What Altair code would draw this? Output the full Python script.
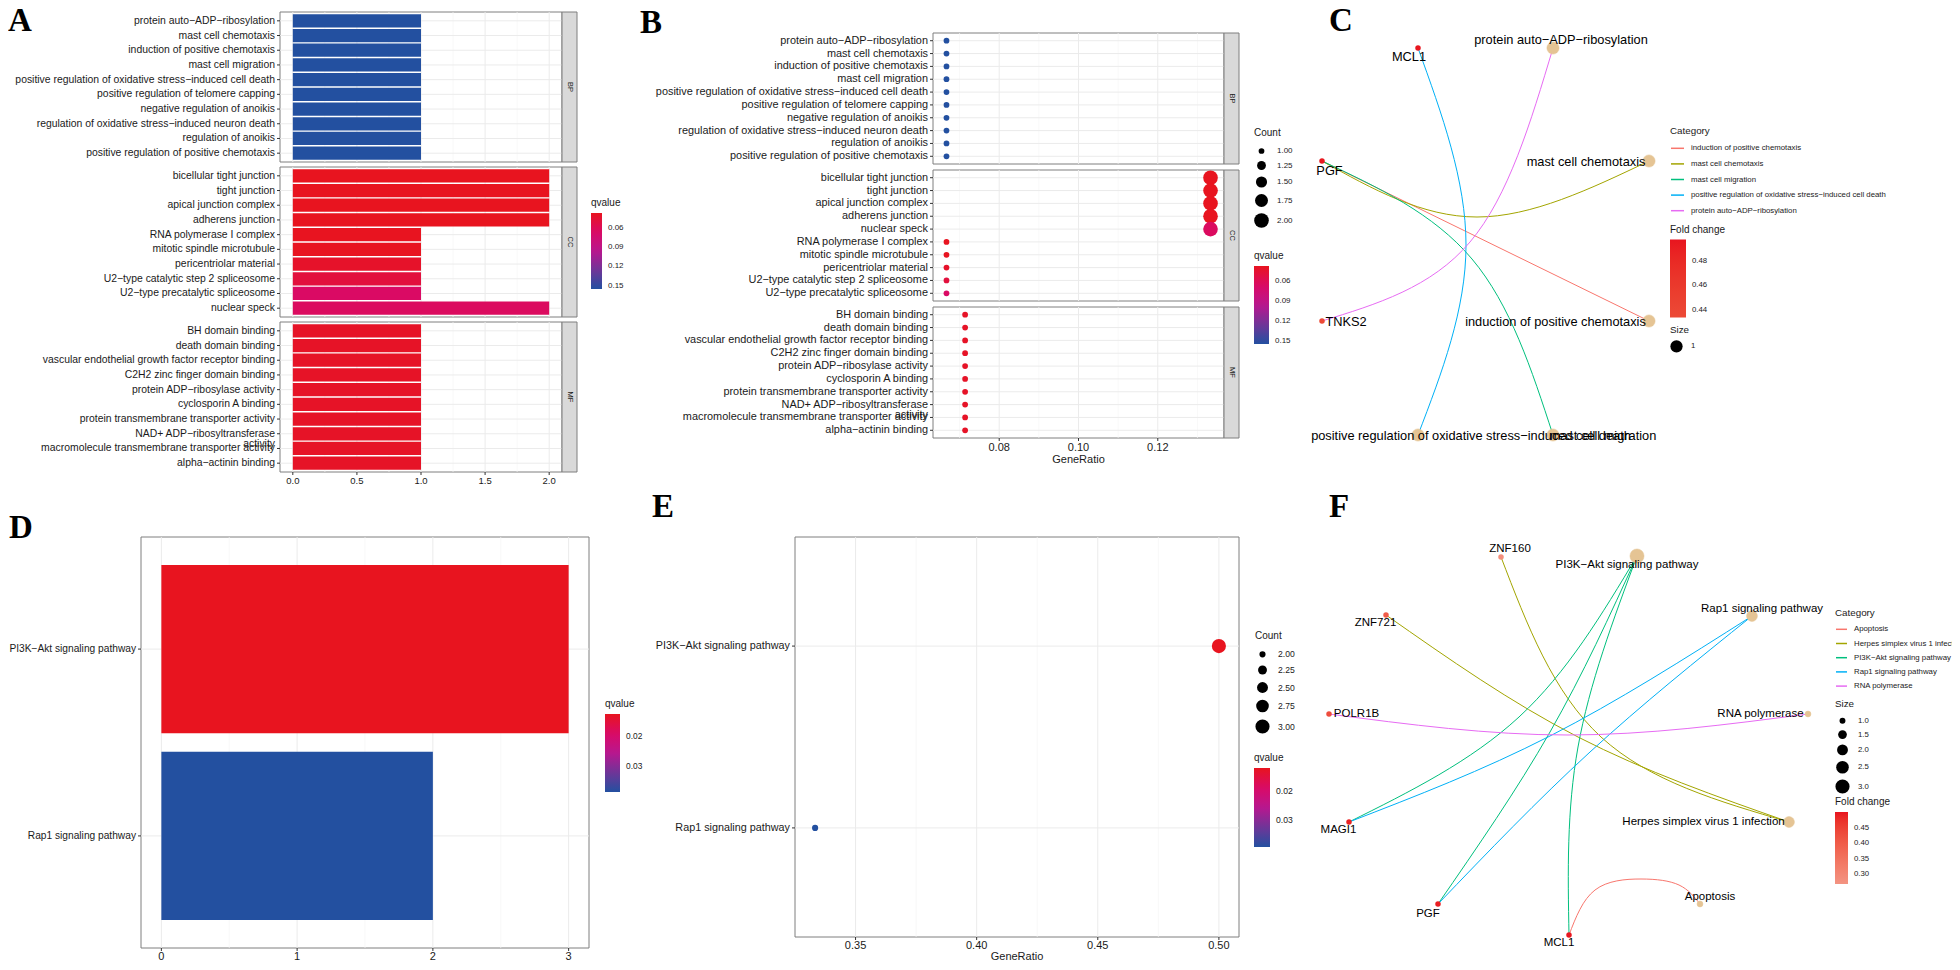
import altair as alt
import pandas as pd

# ---------------- fonts / colours ----------------
SANS = "Liberation Sans, Arial, Helvetica, sans-serif"
SERIF = "Liberation Serif, Times New Roman, serif"
INK = "#1a1a1a"
TICK = "#333333"
BORDER = "#7f7f7f"
GRID = "#EBEBEB"
GRID_MINOR = "#F5F5F5"
STRIP = "#D9D9D9"
CAT_NODE = "#E5C494"
HUE5 = ["#F8766D", "#A3A500", "#00BF7D", "#00B0F6", "#E76BF3"]
QV_COLORS = ["#2350A0", "#6F3598", "#B8178F", "#D90A66", "#E8141F"]

# ---------------- panels A / B : GO enrichment ----------------
bp_terms = [
    "protein auto−ADP−ribosylation",
    "mast cell chemotaxis",
    "induction of positive chemotaxis",
    "mast cell migration",
    "positive regulation of oxidative stress−induced cell death",
    "positive regulation of telomere capping",
    "negative regulation of anoikis",
    "regulation of oxidative stress−induced neuron death",
    "regulation of anoikis",
    "positive regulation of positive chemotaxis",
]
bp_count = [1, 1, 1, 1, 1, 1, 1, 1, 1, 1]
bp_ratio = [0.0667, 0.0667, 0.0667, 0.0667, 0.0667, 0.0667, 0.0667, 0.0667, 0.0667, 0.0667]
bp_qvalue = [0.155, 0.155, 0.155, 0.155, 0.155, 0.155, 0.155, 0.155, 0.155, 0.155]

cc_terms = [
    "bicellular tight junction",
    "tight junction",
    "apical junction complex",
    "adherens junction",
    "RNA polymerase I complex",
    "mitotic spindle microtubule",
    "pericentriolar material",
    "U2−type catalytic step 2 spliceosome",
    "U2−type precatalytic spliceosome",
    "nuclear speck",
]
cc_count = [2, 2, 2, 2, 1, 1, 1, 1, 1, 2]
cc_ratio = [0.1333, 0.1333, 0.1333, 0.1333, 0.0667, 0.0667, 0.0667, 0.0667, 0.0667, 0.1333]
cc_qvalue = [0.0375, 0.0375, 0.0375, 0.0375, 0.038, 0.038, 0.042, 0.05, 0.066, 0.064]
cc_dot_order = [
    "bicellular tight junction",
    "tight junction",
    "apical junction complex",
    "adherens junction",
    "nuclear speck",
    "RNA polymerase I complex",
    "mitotic spindle microtubule",
    "pericentriolar material",
    "U2−type catalytic step 2 spliceosome",
    "U2−type precatalytic spliceosome",
]

mf_terms = [
    "BH domain binding",
    "death domain binding",
    "vascular endothelial growth factor receptor binding",
    "C2H2 zinc finger domain binding",
    "protein ADP−ribosylase activity",
    "cyclosporin A binding",
    "protein transmembrane transporter activity",
    "NAD+ ADP−ribosyltransferase\nactivity",
    "macromolecule transmembrane transporter activity",
    "alpha−actinin binding",
]
mf_count = [1, 1, 1, 1, 1, 1, 1, 1, 1, 1]
mf_ratio = [0.0714, 0.0714, 0.0714, 0.0714, 0.0714, 0.0714, 0.0714, 0.0714, 0.0714, 0.0714]
mf_qvalue = [0.041, 0.041, 0.041, 0.041, 0.041, 0.041, 0.041, 0.041, 0.041, 0.041]

# ---------------- panels D / E : KEGG enrichment ----------------
kegg_terms = ["PI3K−Akt signaling pathway", "Rap1 signaling pathway"]
kegg_count = [3, 2]
kegg_ratio = [0.5, 0.3333]
kegg_qvalue = [0.0124, 0.039]

# colour-stop positions of the qvalue colour bars (high q -> low q)
go_q_stops = [0.155, 0.126, 0.097, 0.067, 0.0375]
kegg_q_stops = [0.039, 0.0324, 0.0257, 0.0191, 0.0124]

# axis ticks and legend values
a_major = [0, 0.5, 1, 1.5, 2]
a_minor = [0.25, 0.75, 1.25, 1.75]
b_major = [0.08, 0.10, 0.12]
b_minor = [0.07, 0.09, 0.11, 0.13]
d_major = [0, 1, 2, 3]
d_minor = [0.5, 1.5, 2.5]
e_major = [0.35, 0.40, 0.45, 0.50]
e_minor = [0.375, 0.425, 0.475]
go_q_labels = [0.06, 0.09, 0.12, 0.15]
kegg_q_labels = [0.02, 0.03]
b_count_labels = [1, 1.25, 1.5, 1.75, 2]
e_count_labels = [2, 2.25, 2.5, 2.75, 3]
c_fc_labels = [0.44, 0.46, 0.48]
f_fc_labels = [0.30, 0.35, 0.40, 0.45]
f_size_labels = [1, 1.5, 2, 2.5, 3]

# ---------------- panel C : gene-concept network (GO), layout units ----------------
c_cat_order = [
    "induction of positive chemotaxis",
    "mast cell chemotaxis",
    "mast cell migration",
    "positive regulation of oxidative stress−induced cell death",
    "protein auto−ADP−ribosylation",
]
c_gene_names = ["MCL1", "PGF", "TNKS2"]
c_gene_x = [118, 22, 22]
c_gene_y = [28, 141, 301]
c_gene_fc = [0.497, 0.495, 0.434]
c_gene_lx = [109, 29.5, 46]
c_gene_ly = [37, 151, 302]
c_cat_names = [
    "protein auto−ADP−ribosylation",
    "mast cell chemotaxis",
    "induction of positive chemotaxis",
    "positive regulation of oxidative stress−induced cell death",
    "mast cell migration",
]
c_cat_x = [253, 349, 349, 118, 253]
c_cat_y = [28, 141, 301, 415, 415]
c_cat_size = [1, 1, 1, 1, 1]
c_cat_lx = [261, 286, 255.5, 171, 303]
c_cat_ly = [20, 142, 302, 416, 416]
c_edge_cat = [
    "induction of positive chemotaxis",
    "mast cell chemotaxis",
    "mast cell migration",
    "positive regulation of oxidative stress−induced cell death",
    "protein auto−ADP−ribosylation",
]
c_edge_x = [[22, 349], [22, 177, 349], [22, 172, 253], [118, 166, 118], [22, 170, 253]]
c_edge_y = [[141, 301], [141, 197, 141], [141, 239, 415], [28, 225, 415], [301, 222, 28]]

# ---------------- panel F : gene-concept network (KEGG), layout units ----------------
f_cat_order = [
    "Apoptosis",
    "Herpes simplex virus 1 infection",
    "PI3K−Akt signaling pathway",
    "Rap1 signaling pathway",
    "RNA polymerase",
]
f_gene_names = ["ZNF160", "ZNF721", "POLR1B", "MAGI1", "PGF", "MCL1"]
f_gene_x = [201, 86, 29, 49, 138, 269]
f_gene_y = [20, 78, 177, 285, 367, 398]
f_gene_fc = [0.28, 0.40, 0.43, 0.49, 0.495, 0.50]
f_gene_lx = [210, 75.5, 56.5, 38.5, 128, 259]
f_gene_ly = [12, 86, 177, 293, 377, 406]
f_cat_names = [
    "PI3K−Akt signaling pathway",
    "Rap1 signaling pathway",
    "RNA polymerase",
    "Herpes simplex virus 1 infection",
    "Apoptosis",
]
f_cat_x = [337, 452, 508, 489, 400]
f_cat_y = [19, 79, 177, 285, 367]
f_cat_size = [3, 2, 1, 2, 1]
f_cat_lx = [327, 462, 460.5, 403.5, 410]
f_cat_ly = [28, 72, 177, 285, 360]
f_edge_cat = [
    "Apoptosis",
    "Herpes simplex virus 1 infection",
    "Herpes simplex virus 1 infection",
    "PI3K−Akt signaling pathway",
    "PI3K−Akt signaling pathway",
    "PI3K−Akt signaling pathway",
    "Rap1 signaling pathway",
    "Rap1 signaling pathway",
    "RNA polymerase",
]
f_edge_x = [[269, 295, 341, 379, 400], [201, 301, 489], [86, 278, 489], [337, 219, 49],
            [337, 250, 138], [337, 278, 269], [452, 250, 49], [452, 290, 138], [29, 268, 508]]
f_edge_y = [[398, 353, 342, 348, 367], [20, 200, 285], [78, 200, 285], [19, 180, 285],
            [19, 195, 367], [19, 210, 398], [79, 199, 285], [79, 215, 367], [177, 198, 177]]

# ======================================================================
# one canvas; every panel gets its own scales whose pixel ranges place it
OFF = 8
CANVAS_W, CANVAS_H = 1944, 954


def px(v):
    return v - OFF


ONE = pd.DataFrame({"k": [0]})
LAYERS = []


def frame(x0, x1, y0, y1, fill="white"):
    return (alt.Chart(ONE).mark_rect(fill=fill, stroke=BORDER, strokeWidth=1)
            .encode(x=alt.value(px(x0)), x2=alt.value(px(x1)),
                    y=alt.value(px(y0)), y2=alt.value(px(y1))))


def text_at(s, x, y, size, font=SANS, **kw):
    return (alt.Chart(pd.DataFrame({"t": [s]}))
            .mark_text(font=font, fontSize=size, color=kw.pop("color", INK), **kw)
            .encode(text="t:N", x=alt.value(px(x)), y=alt.value(px(y))))


def vrules(values, xs, y0, y1, color, width):
    return (alt.Chart(pd.DataFrame({"v": values})).mark_rule(color=color, strokeWidth=width)
            .encode(x=alt.X("v:Q", scale=xs, axis=None),
                    y=alt.value(px(y0)), y2=alt.value(px(y1))))


def hrules(cats, ys, x0, x1, color, width):
    return (alt.Chart(pd.DataFrame({"c": cats})).mark_rule(color=color, strokeWidth=width)
            .encode(y=alt.Y("c:N", scale=ys, axis=None),
                    x=alt.value(px(x0)), x2=alt.value(px(x1))))


def xlabels(values, xs, y, fmt, size, baseline="top"):
    return (alt.Chart(pd.DataFrame({"v": values}))
            .mark_text(font=SANS, fontSize=size, color=INK, baseline=baseline)
            .encode(x=alt.X("v:Q", scale=xs, axis=None), y=alt.value(px(y)),
                    text=alt.Text("v:Q", format=fmt)))


def ylabels(cats, ys, xright, size):
    return (alt.Chart(pd.DataFrame({"c": cats}))
            .mark_text(font=SANS, fontSize=size, color=INK, align="right", baseline="middle",
                       lineBreak="\n", lineHeight=size)
            .encode(y=alt.Y("c:N", scale=ys, axis=None), x=alt.value(px(xright)), text="c:N"))


def leg(title, x, y, tsize=10, lsize=8, **kw):
    kw.setdefault("titlePadding", 5)
    return alt.Legend(title=title, orient="none", legendX=px(x), legendY=px(y),
                      titleFont=SANS, titleFontSize=tsize, titleFontWeight="normal",
                      titleColor=INK, labelFont=SANS, labelFontSize=lsize, labelColor=INK,
                      **kw)


def q_legend(x, y, values, length, thick, tsize=10, lsize=8):
    return leg("qvalue", x, y, tsize, lsize, direction="vertical",
               gradientLength=length, gradientThickness=thick, gradientStrokeWidth=0,
               values=[-v for v in values], labelExpr="format(-datum.value, '.2f')",
               labelOffset=6)


def q_color(stops, legend):
    return alt.Color("negq:Q",
                     scale=alt.Scale(domain=[-v for v in stops], range=QV_COLORS,
                                     interpolate="rgb"),
                     legend=legend)


def categorical_panel(terms, x0, x1, y0, y1, ys, xs, major, minor, marks, label_size,
                      strip_label=None, xlab=None):
    LAYERS.append(frame(x0, x1, y0, y1))
    LAYERS.append(vrules(minor, xs, y0, y1, GRID_MINOR, 0.7))
    LAYERS.append(vrules(major, xs, y0, y1, GRID, 1))
    LAYERS.append(hrules(terms, ys, x0, x1, GRID, 1))
    LAYERS.extend(marks)
    LAYERS.append(hrules(terms, ys, x0 - 3, x0, TICK, 1))
    LAYERS.append(ylabels(terms, ys, x0 - 5, label_size))
    if xlab is not None:
        fmt, size, y_lab, baseline = xlab
        LAYERS.append(vrules(major, xs, y1, y1 + 3, TICK, 1))
        LAYERS.append(xlabels(major, xs, y_lab, fmt, size, baseline))
    if strip_label is not None:
        LAYERS.append(frame(x1, x1 + 15, y0, y1, fill=STRIP))
        LAYERS.append(text_at(strip_label, x1 + 7.5, (y0 + y1) / 2, 7.5, angle=90,
                              baseline="middle", align="center"))


# ---------------- A : bar chart, faceted ----------------
A_X0, A_X1 = 280, 562
a_xs = alt.Scale(domain=[-0.1, 2.1], range=[px(A_X0), px(A_X1)], nice=False, zero=False)
A_ROWS = [(12, 162), (167, 317), (322, 472)]
a_sets = [(bp_terms, bp_count, bp_qvalue, "BP", None),
          (cc_terms, cc_count, cc_qvalue, "CC", q_legend(591, 198, go_q_labels, 76, 11)),
          (mf_terms, mf_count, mf_qvalue, "MF", None)]
for (terms, counts, qv, ont, legend), (y0, y1) in zip(a_sets, A_ROWS):
    ys = alt.Scale(type="band", domain=terms, range=[px(y0), px(y1)],
                   paddingInner=0.1, paddingOuter=0.15)
    df = pd.DataFrame({"Description": terms, "Count": counts, "qvalue": qv})
    bars = (alt.Chart(df).transform_calculate(negq="-datum.qvalue").mark_bar()
            .encode(x=alt.X("Count:Q", scale=a_xs, axis=None), x2=alt.X2(datum=0),
                    y=alt.Y("Description:N", scale=ys, axis=None),
                    color=q_color(go_q_stops, legend)))
    categorical_panel(terms, A_X0, A_X1, y0, y1, ys, a_xs, a_major, a_minor, [bars], 10.4,
                      ont, (".1f", 9.5, y1 + 4, "top") if ont == "MF" else None)

# ---------------- B : dot plot, faceted ----------------
B_X0, B_X1 = 933, 1224
b_xs = alt.Scale(domain=[0.0633, 0.1367], range=[px(B_X0), px(B_X1)], nice=False, zero=False)
B_ROWS = [(33, 164), (170, 301), (307, 438)]
count_leg_b = leg("Count", 1254, 128, 10, 8, values=b_count_labels, format=".2f",
                  symbolFillColor="black", symbolStrokeWidth=0, rowPadding=6,
                  labelOffset=8, titlePadding=9)
b_sets = [(bp_terms, bp_terms, bp_ratio, bp_count, bp_qvalue, "BP", count_leg_b,
           q_legend(1254, 251, go_q_labels, 78, 15)),
          (cc_terms, cc_dot_order, cc_ratio, cc_count, cc_qvalue, "CC", None, None),
          (mf_terms, mf_terms, mf_ratio, mf_count, mf_qvalue, "MF", None, None)]
for (terms, order, ratios, counts, qv, ont, sleg, cleg), (y0, y1) in zip(b_sets, B_ROWS):
    ys = alt.Scale(type="point", domain=order, range=[px(y0), px(y1)], padding=0.6)
    df = pd.DataFrame({"Description": terms, "GeneRatio": ratios, "Count": counts,
                       "qvalue": qv})
    pts = (alt.Chart(df).transform_calculate(negq="-datum.qvalue").mark_circle(opacity=1)
           .encode(x=alt.X("GeneRatio:Q", scale=b_xs, axis=None),
                   y=alt.Y("Description:N", scale=ys, axis=None),
                   size=alt.Size("Count:Q", scale=alt.Scale(domain=[1, 2], range=[33, 214]),
                                 legend=sleg),
                   color=q_color(go_q_stops, cleg)))
    categorical_panel(order, B_X0, B_X1, y0, y1, ys, b_xs, b_major, b_minor, [pts], 10.9,
                      ont, (".2f", 11, y1 + 4, "top") if ont == "MF" else None)
LAYERS.append(text_at("GeneRatio", (B_X0 + B_X1) / 2, 460, 11, baseline="middle"))

# ---------------- D : bar chart ----------------
D_X0, D_X1, D_Y0, D_Y1 = 141, 589, 537, 948
d_xs = alt.Scale(domain=[-0.15, 3.15], range=[px(D_X0), px(D_X1)], nice=False, zero=False)
d_ys = alt.Scale(type="band", domain=kegg_terms, range=[px(D_Y0), px(D_Y1)],
                 paddingInner=0.1, paddingOuter=0.15)
d_df = pd.DataFrame({"Description": kegg_terms, "Count": kegg_count, "qvalue": kegg_qvalue})
d_bars = (alt.Chart(d_df).transform_calculate(negq="-datum.qvalue").mark_bar()
          .encode(x=alt.X("Count:Q", scale=d_xs, axis=None), x2=alt.X2(datum=0),
                  y=alt.Y("Description:N", scale=d_ys, axis=None),
                  color=q_color(kegg_q_stops,
                                q_legend(605, 699, kegg_q_labels, 78, 15, 10, 8.4))))
categorical_panel(kegg_terms, D_X0, D_X1, D_Y0, D_Y1, d_ys, d_xs, d_major, d_minor, [d_bars],
                  10.2, None, ("d", 11, 959.5, "alphabetic"))

# ---------------- E : dot plot ----------------
E_X0, E_X1, E_Y0, E_Y1 = 795, 1239, 537, 937
e_xs = alt.Scale(domain=[0.325, 0.5083], range=[px(E_X0), px(E_X1)], nice=False, zero=False)
e_ys = alt.Scale(type="point", domain=kegg_terms, range=[px(E_Y0), px(E_Y1)], padding=0.6)
e_df = pd.DataFrame({"Description": kegg_terms, "GeneRatio": kegg_ratio, "Count": kegg_count,
                     "qvalue": kegg_qvalue})
e_pts = (alt.Chart(e_df).transform_calculate(negq="-datum.qvalue").mark_circle(opacity=1)
         .encode(x=alt.X("GeneRatio:Q", scale=e_xs, axis=None),
                 y=alt.Y("Description:N", scale=e_ys, axis=None),
                 size=alt.Size("Count:Q", scale=alt.Scale(domain=[2, 3], range=[38, 200]),
                               legend=leg("Count", 1255, 631, 10, 8.6,
                                          values=e_count_labels, format=".2f",
                                          symbolFillColor="black", symbolStrokeWidth=0,
                                          rowPadding=6.5, labelOffset=8, titlePadding=9)),
                 color=q_color(kegg_q_stops,
                               q_legend(1254, 753, kegg_q_labels, 79, 16, 10, 8.6))))
categorical_panel(kegg_terms, E_X0, E_X1, E_Y0, E_Y1, e_ys, e_xs, e_major, e_minor, [e_pts],
                  10.8, None, (".2f", 11, 948.5, "alphabetic"))
LAYERS.append(text_at("GeneRatio", (E_X0 + E_X1) / 2, 959.5, 11, baseline="alphabetic"))


# ---------------- C / F : gene-concept networks ----------------
def network(ox, oy, w, h, cat_order, gnames, gx, gy, gfc, glx, gly, cnames, cx, cy, csize,
            clx, cly, ecat, ex, ey, fc_dom, fc_range, fc_vals, size_dom, size_range,
            size_vals, size_fmt, cat_leg, fc_leg, size_leg, label_size):
    xs = alt.Scale(domain=[0, w], range=[px(ox), px(ox + w)], nice=False, zero=False)
    ys = alt.Scale(domain=[0, h], range=[px(oy), px(oy + h)], nice=False, zero=False)
    rows = []
    for i, (cat, xx, yy) in enumerate(zip(ecat, ex, ey)):
        for j, (a, b) in enumerate(zip(xx, yy)):
            rows.append({"edge": i, "step": j, "Category": cat, "x": a, "y": b})
    edf = pd.DataFrame(rows)
    gdf = pd.DataFrame({"name": gnames, "x": gx, "y": gy, "fc": gfc, "lx": glx, "ly": gly})
    cdf = pd.DataFrame({"name": cnames, "x": cx, "y": cy, "size": csize, "lx": clx,
                        "ly": cly})
    X = alt.X("x:Q", scale=xs, axis=None)
    Y = alt.Y("y:Q", scale=ys, axis=None)
    lx, ly, sym_len, row_pad = cat_leg
    edges = (alt.Chart(edf).mark_line(interpolate="natural", strokeWidth=1)
             .encode(x=X, y=Y,
                     stroke=alt.Stroke("Category:N",
                                       scale=alt.Scale(domain=cat_order, range=HUE5),
                                       legend=leg("Category", lx, ly, 9.8, 7.8,
                                                  symbolType="stroke",
                                                  symbolSize=sym_len * sym_len,
                                                  symbolStrokeWidth=1.5, rowPadding=row_pad,
                                                  labelLimit=0, labelOffset=6)),
                     detail="edge:N", order="step:Q"))
    sx, sy, s_pad, s_tpad = size_leg
    cat_nodes = (alt.Chart(cdf).transform_calculate(kind="'category'")
                 .mark_circle(opacity=1, stroke=CAT_NODE, strokeWidth=0.5)
                 .encode(x=X, y=Y,
                         color=alt.Color("kind:N", scale=alt.Scale(range=[CAT_NODE]),
                                         legend=None),
                         size=alt.Size("size:Q",
                                       scale=alt.Scale(domain=size_dom, range=size_range),
                                       legend=leg("Size", sx, sy, 9.8, 7.8,
                                                  values=size_vals, format=size_fmt,
                                                  symbolFillColor="black",
                                                  symbolStrokeWidth=0, rowPadding=s_pad,
                                                  titlePadding=s_tpad, labelOffset=8))))
    fx, fy, flen, fth = fc_leg
    gene_nodes = (alt.Chart(gdf).mark_circle(opacity=1, size=30)
                  .encode(x=X, y=Y,
                          fill=alt.Fill("fc:Q",
                                        scale=alt.Scale(domain=fc_dom, range=fc_range),
                                        legend=leg("Fold change", fx, fy, 10, 7.8,
                                                   direction="vertical", gradientLength=flen,
                                                   gradientThickness=fth,
                                                   gradientStrokeWidth=0, values=fc_vals,
                                                   format=".2f", labelOffset=6))))
    labels = pd.concat([gdf[["name", "lx", "ly"]], cdf[["name", "lx", "ly"]]])
    text = (alt.Chart(labels).mark_text(font=SANS, fontSize=label_size, color="black")
            .encode(x=alt.X("lx:Q", scale=xs, axis=None),
                    y=alt.Y("ly:Q", scale=ys, axis=None), text="name:N"))
    return [edges, cat_nodes, gene_nodes, text]


LAYERS.extend(network(1300, 20, 360, 440, c_cat_order, c_gene_names, c_gene_x, c_gene_y,
                      c_gene_fc, c_gene_lx, c_gene_ly, c_cat_names, c_cat_x, c_cat_y,
                      c_cat_size, c_cat_lx, c_cat_ly, c_edge_cat, c_edge_x, c_edge_y,
                      [0.4335, 0.498], ["#EC4A36", "#E8141F"], c_fc_labels, [0, 1],
                      [0, 150], [1], "d", (1670, 126, 13, 3.6), (1670, 224.5, 78, 16),
                      (1670, 325, 2, 5), 12.8))
LAYERS.extend(network(1300, 537, 520, 410, f_cat_order, f_gene_names, f_gene_x, f_gene_y,
                      f_gene_fc, f_gene_lx, f_gene_ly, f_cat_names, f_cat_x, f_cat_y,
                      f_cat_size, f_cat_lx, f_cat_ly, f_edge_cat, f_edge_x, f_edge_y,
                      [0.268, 0.502], ["#F39482", "#E8141F"], f_fc_labels, [1, 3],
                      [35, 200], f_size_labels, ".1f", (1835, 608, 11, 3.2),
                      (1835, 797, 72, 13), (1835, 699, 5.3, 8), 11.5))

# ---------------- panel letters ----------------
for ch, lx, ly in [("A", 8, 31), ("B", 640, 33), ("C", 1329, 31), ("D", 9, 538),
                   ("E", 652, 517), ("F", 1329, 517)]:
    LAYERS.append(text_at(ch, lx, ly, 33, SERIF, fontWeight="bold", align="left",
                          baseline="alphabetic", color="black"))

chart = (alt.layer(*LAYERS)
         .resolve_scale(x="independent", y="independent", color="independent",
                        size="independent", fill="independent", stroke="independent")
         .properties(width=CANVAS_W, height=CANVAS_H, autosize=alt.AutoSizeParams(type="none"),
                     padding={"left": 0, "top": 0, "right": 0, "bottom": 0},
                     background="white")
         .configure_view(strokeWidth=0))

chart.save("out.html", embed_options={"renderer": "svg", "actions": False})
